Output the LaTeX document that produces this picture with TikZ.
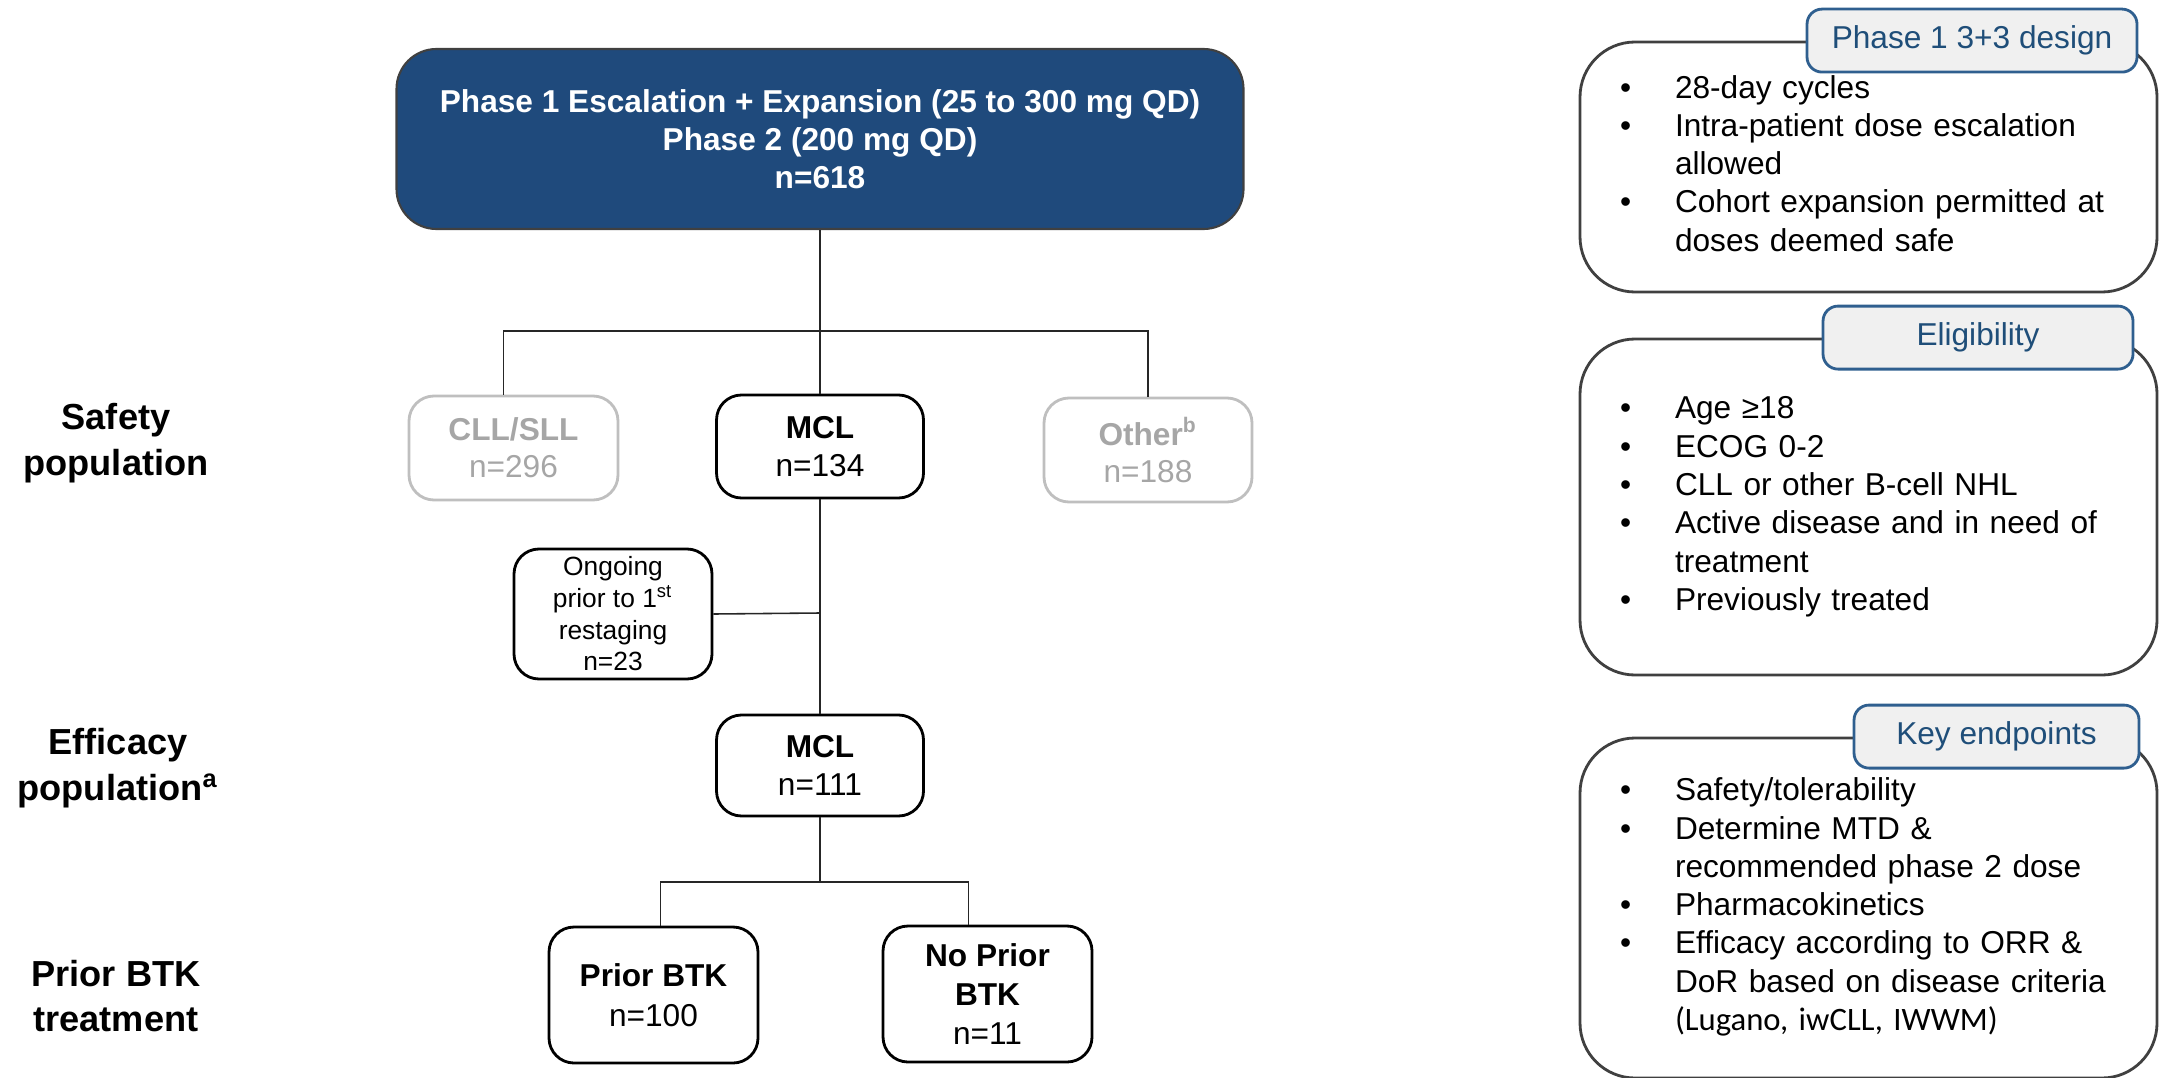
\documentclass[tikz,border=0pt]{standalone}
\usepackage{fontspec}
\setmainfont{Liberation Sans}
\newfontfamily\calfont{Carlito}

\definecolor{darkblue}{HTML}{1F4A7C}
\definecolor{greyline}{HTML}{BFBFBF}
\definecolor{greytext}{HTML}{A6A6A6}
\definecolor{tagfill}{HTML}{F0F0F0}
\definecolor{tagline}{HTML}{2F5F8F}
\definecolor{tagtext}{HTML}{1F4E79}

\tikzset{
	conn/.style={draw=black!85, line width=0.45pt},
	armbox/.style={draw, line width=0.8pt, rounded corners=0.25cm, align=center, inner sep=0pt,
		minimum width=2.07cm, minimum height=1.03cm, font=\fontsize{9}{10.6}\selectfont},
	greybox/.style={armbox, draw=greyline, text=greytext},
	rowlabel/.style={align=center, font=\fontsize{10.3}{13}\selectfont\bfseries},
	sidebox/.style={draw=black!75, line width=0.8pt, rounded corners=0.55cm, inner xsep=0.4cm,
		text width=4.97cm, align=left, font=\fontsize{9}{10.9}\selectfont},
	tagbox/.style={draw=tagline, fill=tagfill, text=tagtext, line width=0.8pt, rounded corners=0.15cm,
		inner sep=0pt, minimum height=0.63cm, font=\fontsize{9}{10.8}\selectfont}
}

\newcommand{\bl}{\textbullet &}

\begin{document}
\begin{tikzpicture}
	\useasboundingbox (0,0) rectangle (21.6,-10.77);

	% flow chart
	\node (top) [draw=black!75, fill=darkblue, text=white, rounded corners=0.4cm, line width=0.6pt,
		minimum width=8.47cm, minimum height=1.80cm, align=center,
		font=\fontsize{9}{10.8}\selectfont\bfseries] at (8.2,-1.39)
		{Phase 1 Escalation + Expansion (25 to 300 mg QD)\\Phase 2 (200 mg QD)\\n=618};

	\node (cll) [greybox, minimum width=2.09cm, minimum height=1.04cm] at (5.135,-4.48) {\textbf{CLL/SLL}\\n=296};
	\node (mcl) [armbox] at (8.2,-4.465) {\textbf{MCL}\\n=134};
	\node (oth) [greybox, minimum width=2.08cm, minimum height=1.04cm] at (11.48,-4.50) {\textbf{Other\textsuperscript{b}}\\n=188};

	\node (ong) [armbox, minimum width=1.98cm, minimum height=1.30cm, font=\fontsize{7.5}{9}\selectfont]
		at (6.13,-6.14) {Ongoing\\prior to 1\textsuperscript{st}\\restaging\\n=23};
	\node (mcl2) [armbox, minimum height=1.01cm] at (8.2,-7.655) {\textbf{MCL}\\n=111};

	\node (pbtk) [armbox, minimum width=2.09cm, minimum height=1.36cm, font=\fontsize{9}{11.4}\selectfont]
		at (6.535,-9.95) {\textbf{Prior BTK}\\n=100};
	\node (npbtk) [armbox, minimum width=2.09cm, minimum height=1.36cm, font=\fontsize{9}{11}\selectfont]
		at (9.875,-9.94) {\textbf{No Prior}\\\textbf{BTK}\\n=11};

	\coordinate (fork) at (8.2,-3.31);
	\coordinate (join) at (8.2,-6.13);
	\coordinate (fork2) at (8.2,-8.82);

	\draw[conn] (top.south) -- (mcl.north);
	\draw[conn] ([xshift=-0.1cm]cll.north) |- (fork) -| (oth.north);
	\draw[conn] (mcl.south) -- (mcl2.north);
	\draw[conn] (ong.east) -- (join);
	\draw[conn] (mcl2.south) -- (fork2);
	\draw[conn] ([xshift=0.07cm]pbtk.north) |- (fork2) -| ([xshift=-0.19cm]npbtk.north);

	% row labels
	\node (lsafe) [rowlabel] at (1.16,-4.43) {Safety\\population};
	\node (leff) [rowlabel] at (1.18,-7.68) {Efficacy\\population\textsuperscript{a}};
	\node (lbtk) [rowlabel] at (1.16,-9.96) {Prior BTK\\treatment};

	% side panels
	\node (design) [sidebox, minimum height=2.50cm] at (18.685,-1.67) {%
		\begin{tabular}{@{}p{0.55cm}@{}l@{}}
		\bl 28-day cycles\\
		\bl Intra-patient dose escalation\\
		& allowed\\
		\bl Cohort expansion permitted at\\
		& doses deemed safe
		\end{tabular}};
	\node (dtag) [tagbox, minimum width=3.30cm, anchor=east] at ([xshift=-0.2cm]design.north east) {Phase 1 3+3 design};

	\node (elig) [sidebox, minimum height=3.36cm] at (18.685,-5.07) {%
		\begin{tabular}{@{}p{0.55cm}@{}l@{}}
		\bl Age ≥18\\
		\bl ECOG 0-2\\
		\bl CLL or other B-cell NHL\\
		\bl Active disease and in need of\\
		& treatment\\
		\bl Previously treated
		\end{tabular}};
	\node (etag) [tagbox, minimum width=3.10cm, anchor=east] at ([xshift=-0.24cm]elig.north east) {Eligibility};

	\node (endp) [sidebox, minimum height=3.40cm] at (18.685,-9.08) {%
		\begin{tabular}{@{}p{0.55cm}@{}l@{}}
		\bl Safety/tolerability\\
		\bl Determine MTD \&\\
		& recommended phase 2 dose\\
		\bl Pharmacokinetics\\
		\bl Efficacy according to ORR \&\\
		& DoR based on disease criteria\\
		& {\calfont\fontsize{9.3}{10.9}\selectfont (Lugano, iwCLL, IWWM)}
		\end{tabular}};
	\node (ktag) [tagbox, minimum width=2.85cm, anchor=east] at ([xshift=-0.18cm]endp.north east) {Key endpoints};
\end{tikzpicture}
\end{document}
